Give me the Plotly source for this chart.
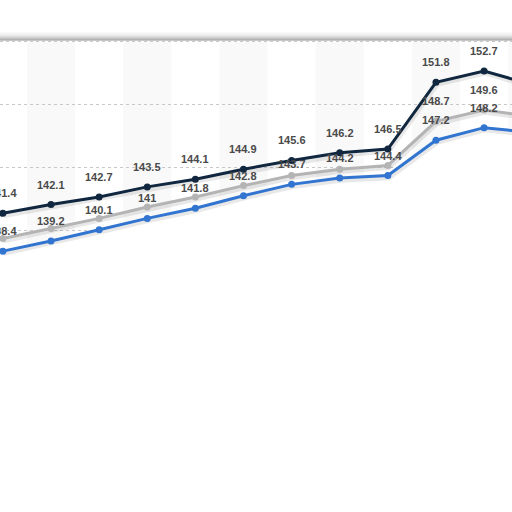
import plotly.graph_objects as go

# Point index (category positions); the axis labels are cropped out of the reference
categories = list(range(12))
navy_values = [141.4, 142.1, 142.7, 143.5, 144.1, 144.9, 145.6, 146.2, 146.5, 151.8, 152.7, 151.6]
gray_values = [139.4, 140.2, 141.0, 141.9, 142.7, 143.6, 144.4, 144.9, 145.2, 148.7, 149.6, 149.1]
blue_values = [138.4, 139.2, 140.1, 141.0, 141.8, 142.8, 143.7, 144.2, 144.4, 147.2, 148.2, 147.8]
gray_label_shown = [False] * 9 + [True, True, False]
grid_values = [140, 145, 150, 155]

NAVY = "#10273f"
GRAY = "#b4b4b4"
BLUE = "#3275d0"
LABEL = "#4a4a4a"

XR = [-0.06, 10.58]
YR = [117.7, 158.33]
SH = 0.17  # shadow offset in value units (~2px)

fig = go.Figure()

# white fill under the blue line (hides stripes and grid below it)
fig.add_trace(go.Scatter(x=categories, y=blue_values, mode="lines", line=dict(width=0, color="white"),
                         fill="tozeroy", fillcolor="white", hoverinfo="skip", showlegend=False))

# shadows
for vals in (gray_values, blue_values, navy_values):
    fig.add_trace(go.Scatter(x=categories, y=vals, mode="lines",
                             line=dict(width=5, color="rgba(0,0,0,0.09)"),
                             xaxis="x2", yaxis="y2", hoverinfo="skip", showlegend=False))

for vals, col in ((gray_values, GRAY), (blue_values, BLUE), (navy_values, NAVY)):
    fig.add_trace(go.Scatter(x=categories, y=vals, mode="lines+markers",
                             line=dict(width=3, color=col),
                             marker=dict(size=7, color=col),
                             xaxis="x3", yaxis="y3", showlegend=False, cliponaxis=False))

annotations = []
def add_labels(vals, shown):
    for i, v, s in zip(categories, vals, shown):
        if s:
            annotations.append(dict(x=i, y=v, xref="x3", yref="y3", text="%g" % v, showarrow=False,
                                    yshift=20, font=dict(family="Liberation Sans", size=11,
                                                         color=LABEL, weight="bold")))
add_labels(gray_values, gray_label_shown)
add_labels(blue_values, [True] * len(blue_values))
add_labels(navy_values, [True] * len(navy_values))

# alternating vertical bands
shapes = []
for i in categories:
    if i % 2 == 1:
        shapes.append(dict(type="rect", xref="x", yref="y", x0=i - 0.5, x1=i + 0.5, y0=YR[0], y1=155,
                           fillcolor="#f9f9f9", line=dict(width=0), layer="below"))
# top frame shadow
for k, op in enumerate([0.02, 0.04, 0.06, 0.09, 0.13, 0.18, 0.24, 0.30, 0.22]):
    y0 = 1 - (32 + k) / 512
    shapes.append(dict(type="rect", xref="paper", yref="paper", x0=0, x1=1, y0=y0 - 1 / 512, y1=y0,
                       fillcolor="rgba(0,0,0,%g)" % op, line=dict(width=0), layer="above"))

fig.update_layout(
    width=512, height=512, margin=dict(l=0, r=0, t=0, b=0, autoexpand=False),
    paper_bgcolor="white", plot_bgcolor="white", shapes=shapes, annotations=annotations,
    xaxis=dict(range=XR, showgrid=False, zeroline=False, showticklabels=False, showline=False),
    yaxis=dict(range=YR, tickvals=grid_values, showgrid=True, gridcolor="#c8c8c8", griddash="dot",
               gridwidth=1, zeroline=False, showticklabels=False, showline=False),
    xaxis2=dict(range=[XR[0] - 0.02, XR[1] - 0.02], overlaying="x", visible=False),
    yaxis2=dict(range=[YR[0] + SH, YR[1] + SH], overlaying="y", visible=False),
    xaxis3=dict(range=XR, overlaying="x", visible=False),
    yaxis3=dict(range=YR, overlaying="y", visible=False),
)

fig.write_html("out.html", config={"displayModeBar": False},
               post_script="document.body.style.margin='0';document.body.style.overflow='hidden';")
